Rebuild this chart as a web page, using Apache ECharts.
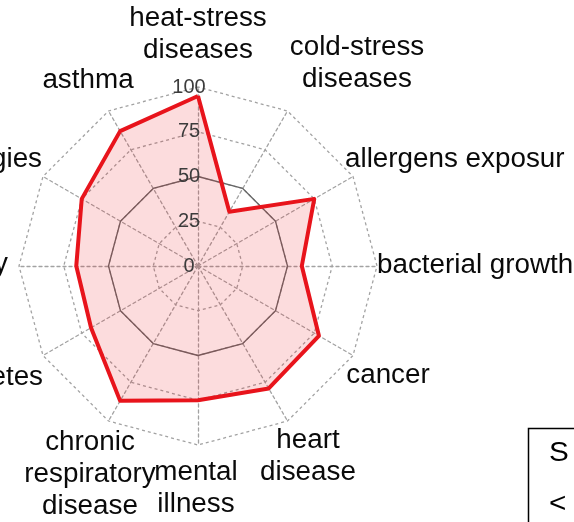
<!DOCTYPE html>
<html>
<head>
<meta charset="utf-8">
<script src="https://cdn.jsdelivr.net/npm/echarts@6/dist/echarts.min.js"></script>
<style>
  html, body { margin: 0; padding: 0; background: #fff; }
  #chart { width: 574px; height: 522px; }
</style>
</head>
<body>
<div id="chart"></div>
<script>
// Health outcomes, listed clockwise starting at the top axis
const categories = [
  'heat-stress\ndiseases', 'cold-stress\ndiseases', 'allergens exposur', 'bacterial growth',
  'cancer', 'heart\ndisease', 'mental\nillness', 'chronic\nrespiratory\ndisease',
  'diabetes', 'obesity', 'allergies', 'asthma'
];
const impactValues = [95, 35, 75, 58, 78, 79, 75, 87, 69, 68, 75, 87];
const referenceValues = [50, 50, 50, 50, 50, 50, 50, 50, 50, 50, 50, 50];
const tickLabels = [0, 25, 50, 75, 100];
const axisMax = 100;

// Label anchors (x, y, horizontal alignment) in the same clockwise order
const labelLayout = [
  [198, 35, 'center'], [357, 64, 'center'], [345, 160, 'left'], [377, 266, 'left'],
  [388, 376, 'center'], [308, 457, 'center'], [196, 489, 'center'], [90, 475, 'center'],
  [43, 378, 'right'], [8, 265, 'right'], [42, 160, 'right'], [88, 81, 'center']
];

// ECharts lays radar indicators out counter-clockwise, so walk the list backwards after the first
const order = [0].concat(categories.map((_, i) => i).slice(1).reverse());
const pick = arr => order.map(i => arr[i]);

const chart = echarts.init(document.getElementById('chart'), null, { renderer: 'canvas' });
const FONT = "'Liberation Sans', Arial, sans-serif";
const GRID = { color: '#a2a2a2', width: 1.3, type: [3, 3] };

chart.setOption({
  animation: false,
  backgroundColor: '#ffffff',
  radar: {
    center: [198, 266],
    radius: 179,
    startAngle: 90,
    splitNumber: 4,
    shape: 'polygon',
    indicator: pick(categories).map(n => ({ name: n, min: 0, max: axisMax })),
    axisName: { show: false },
    axisLine: { lineStyle: GRID },
    splitLine: { lineStyle: GRID },
    splitArea: { show: false },
    axisTick: { show: false },
    axisLabel: { show: false }
  },
  series: [{
    type: 'radar',
    symbol: 'none',
    silent: true,
    z: 2,
    data: [
      {
        value: pick(referenceValues),
        lineStyle: { color: '#666666', width: 1.3 },
        areaStyle: { opacity: 0 }
      },
      {
        value: pick(impactValues),
        lineStyle: { color: '#e8141c', width: 4, join: 'round' },
        areaStyle: { color: 'rgba(232, 20, 28, 0.21)' }
      }
    ]
  }]
});

// Axis names and tick values as text, placed around the radar
const radarCS = chart.getModel().getComponent('radar', 0).coordinateSystem;
const toPoint = (v) => radarCS && radarCS.dataToPoint
  ? radarCS.dataToPoint(v, 0)
  : [198, 266 - 179 * v / axisMax];

const graphics = [];
categories.forEach((name, i) => {
  const [x, y, align] = labelLayout[i];
  graphics.push({
    type: 'text', x, y, scaleX: 1.03, z: 10, silent: true,
    style: {
      text: name, font: '27px ' + FONT, fill: '#0a0a0a',
      align, verticalAlign: 'middle', lineHeight: 32
    }
  });
});
tickLabels.forEach(v => {
  const p = toPoint(v);
  graphics.push({
    type: 'text', x: p[0] - 9, y: p[1], z: 10, silent: true,
    style: { text: String(v), font: '20px ' + FONT, fill: '#3c3c3c', align: 'center', verticalAlign: 'middle' }
  });
});

// Legend box at the lower right edge
graphics.push({
  type: 'rect', z: 10, silent: true,
  shape: { x: 528.5, y: 428.5, width: 120, height: 140 },
  style: { fill: '#ffffff', stroke: '#000000', lineWidth: 1.5 }
});
graphics.push({
  type: 'text', x: 549, y: 454, scaleX: 1.1, z: 11, silent: true,
  style: { text: 'S', font: '27px ' + FONT, fill: '#000', align: 'left', verticalAlign: 'middle' }
});
graphics.push({
  type: 'text', x: 549, y: 505, scaleX: 1.1, z: 11, silent: true,
  style: { text: '<', font: '27px ' + FONT, fill: '#000', align: 'left', verticalAlign: 'middle' }
});

chart.setOption({ graphic: graphics });
</script>
</body>
</html>
